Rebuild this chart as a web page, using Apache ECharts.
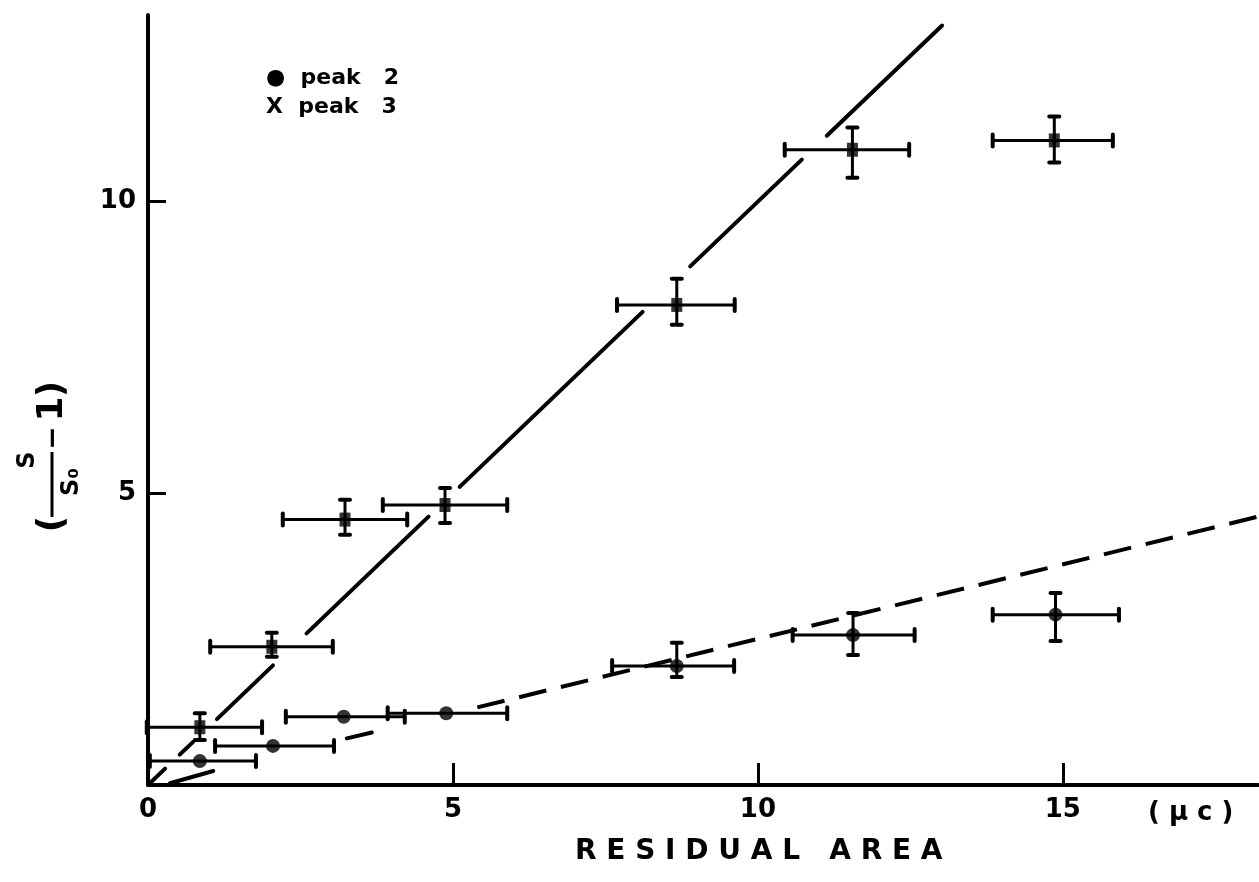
<!DOCTYPE html>
<html><head><meta charset="utf-8">
<script src="https://cdn.jsdelivr.net/npm/echarts@6/dist/echarts.min.js"></script>
<style>html,body{margin:0;padding:0;background:#fff}#c{width:1259px;height:882px}</style>
</head><body><div id="c"></div>
<script>
// ---- data ----
const xTickValues = [0, 5, 10, 15];
const yTickValues = [5, 10];
// peak 3 (X markers)
const peak3X     = [0.85, 2.03, 3.23, 4.87, 8.67, 11.55, 14.86];
const peak3Y     = [0.99, 2.37, 4.55, 4.80, 8.23, 10.89, 11.05];
const peak3XLow  = [-0.02, 1.02, 2.21, 3.85, 7.69, 10.44, 13.85];
const peak3XHigh = [1.87, 3.03, 4.25, 5.89, 9.62, 12.48, 15.82];
const peak3YLow  = [0.77, 2.20, 4.29, 4.49, 7.89, 10.41, 10.67];
const peak3YHigh = [1.23, 2.61, 4.89, 5.09, 8.68, 11.27, 11.46];
// peak 2 (dots)
const peak2X     = [0.85, 2.05, 3.21, 4.89, 8.67, 11.56, 14.88];
const peak2Y     = [0.41, 0.67, 1.17, 1.23, 2.04, 2.57, 2.92];
const peak2XLow  = [0.03, 1.10, 2.26, 3.93, 7.61, 10.57, 13.85];
const peak2XHigh = [1.77, 3.05, 4.21, 5.89, 9.61, 12.57, 15.92];
const peak2YLow  = [null, null, null, null, 1.85, 2.23, 2.47];
const peak2YHigh = [null, null, null, null, 2.44, 2.95, 3.29];
// fitted lines
const fit3Pieces = [[[0.03,0.03],[0.28,0.28]], [[0.52,0.52],[0.74,0.74]], [[1.13,1.13],[2.05,2.05]],
                    [[2.60,2.60],[4.60,4.60]], [[5.11,5.11],[8.11,8.11]], [[8.89,8.89],[10.72,10.72]],
                    [[11.13,11.13],[13.02,13.02]]];
const fit2Pieces = [[[0.36,0.03],[1.07,0.24]], [[3.26,0.80],[3.67,0.90]]];
const fit2Dashed = [[5.40,1.33],[18.2,4.60]];

const FONT = 'DejaVu Sans';
const chart = echarts.init(document.getElementById('c'), null, {renderer: 'canvas'});

function errorBars(xs, ys, xl, xh, yl, yh) {
  return function (params, api) {
    const i = params.dataIndex;
    const c = api.coord([xs[i], ys[i]]);
    const a = api.coord([xl[i], ys[i]]);
    const b = api.coord([xh[i], ys[i]]);
    const bar = {stroke: '#000', lineWidth: 3};
    const cap = {stroke: '#000', lineWidth: 4, lineCap: 'round'};
    const ch = [
      {type: 'line', shape: {x1: a[0], y1: c[1], x2: b[0], y2: c[1]}, style: bar},
      {type: 'line', shape: {x1: a[0], y1: c[1] - 6, x2: a[0], y2: c[1] + 6}, style: cap},
      {type: 'line', shape: {x1: b[0], y1: c[1] - 6, x2: b[0], y2: c[1] + 6}, style: cap}
    ];
    if (yl[i] != null) {
      const lo = api.coord([xs[i], yl[i]]);
      const hi = api.coord([xs[i], yh[i]]);
      ch.push({type: 'line', shape: {x1: c[0], y1: lo[1], x2: c[0], y2: hi[1]}, style: bar});
      ch.push({type: 'line', shape: {x1: c[0] - 5, y1: lo[1], x2: c[0] + 5, y2: lo[1]}, style: cap});
      ch.push({type: 'line', shape: {x1: c[0] - 5, y1: hi[1], x2: c[0] + 5, y2: hi[1]}, style: cap});
    }
    return {type: 'group', children: ch};
  };
}

const series = [];
fit3Pieces.forEach(p => series.push({type: 'line', data: p, symbol: 'none', silent: true,
  lineStyle: {color: '#000', width: 4, cap: 'round'}, z: 2}));
fit2Pieces.forEach(p => series.push({type: 'line', data: p, symbol: 'none', silent: true,
  lineStyle: {color: '#000', width: 4, cap: 'round'}, z: 2}));
series.push({type: 'line', data: fit2Dashed, symbol: 'none', silent: true,
  lineStyle: {color: '#000', width: 4, type: [28, 15]}, z: 2});
series.push({type: 'custom', data: peak3X.map((x, i) => [x, peak3Y[i]]),
  renderItem: errorBars(peak3X, peak3Y, peak3XLow, peak3XHigh, peak3YLow, peak3YHigh), z: 3});
series.push({type: 'custom', data: peak2X.map((x, i) => [x, peak2Y[i]]),
  renderItem: errorBars(peak2X, peak2Y, peak2XLow, peak2XHigh, peak2YLow, peak2YHigh), z: 3});
series.push({type: 'scatter', data: peak3X.map((x, i) => [x, peak3Y[i]]), symbol: 'rect',
  symbolSize: [11, 14], itemStyle: {color: '#000'}, z: 4});
series.push({type: 'scatter', data: peak2X.map((x, i) => [x, peak2Y[i]]), symbol: 'circle',
  symbolSize: 14, itemStyle: {color: '#000'}, z: 4});

const txt = {fill: '#000', fontFamily: FONT, fontWeight: 'bold'};
function t(text, x, y, size) {
  return {type: 'text', x: x, y: y,
    style: Object.assign({text: text, fontSize: size, align: 'center', verticalAlign: 'middle'}, txt)};
}

chart.setOption({
  backgroundColor: '#fff',
  animation: false,
  grid: {left: 148, right: 1, top: 15, bottom: 97},
  xAxis: {type: 'value', min: 0, max: 18.2, interval: 5,
    axisLine: {lineStyle: {color: '#000', width: 4}},
    axisTick: {inside: true, length: 22, lineStyle: {color: '#000', width: 3}},
    axisLabel: {color: '#000', fontSize: 26, fontFamily: FONT, fontWeight: 'bold', margin: 12,
      showMaxLabel: false,
      formatter: v => xTickValues.includes(v) ? String(v) : ''},
    splitLine: {show: false}},
  yAxis: {type: 'value', min: 0, max: 13.2, interval: 5,
    axisLine: {lineStyle: {color: '#000', width: 4}},
    axisTick: {inside: true, length: 18, lineStyle: {color: '#000', width: 3}},
    axisLabel: {color: '#000', fontSize: 26, fontFamily: FONT, fontWeight: 'bold', margin: 12,
      showMinLabel: false, showMaxLabel: false,
      formatter: v => yTickValues.includes(v) ? String(v) : ''},
    splitLine: {show: false}},
  series: series,
  graphic: [
    {type: 'text', left: 266, top: 67, style: Object.assign({text: '●  peak   2', fontSize: 22}, txt)},
    {type: 'text', left: 266, top: 96, style: Object.assign({text: 'X  peak   3', fontSize: 22}, txt)},
    {type: 'text', left: 575, top: 838, style: Object.assign({text: 'R E S I D U A L   A R E A', fontSize: 28}, txt)},
    {type: 'text', left: 1148, top: 800, style: Object.assign({text: '( μ c )', fontSize: 26}, txt)},
    {type: 'group', x: 48, y: 458, rotation: Math.PI / 2, children: [
      t('(', -66, 5, 36),
      {type: 'line', shape: {x1: -59, y1: 4, x2: 6, y2: 4}, style: {stroke: '#000', lineWidth: 3}},
      t('S', -2, -20, 24),
      t('S₀', -24, 24, 24),
      t('−', 20, 6, 28),
      t('1', 49, 5, 36),
      t(')', 69, 5, 36)
    ]}
  ]
});
</script></body></html>
